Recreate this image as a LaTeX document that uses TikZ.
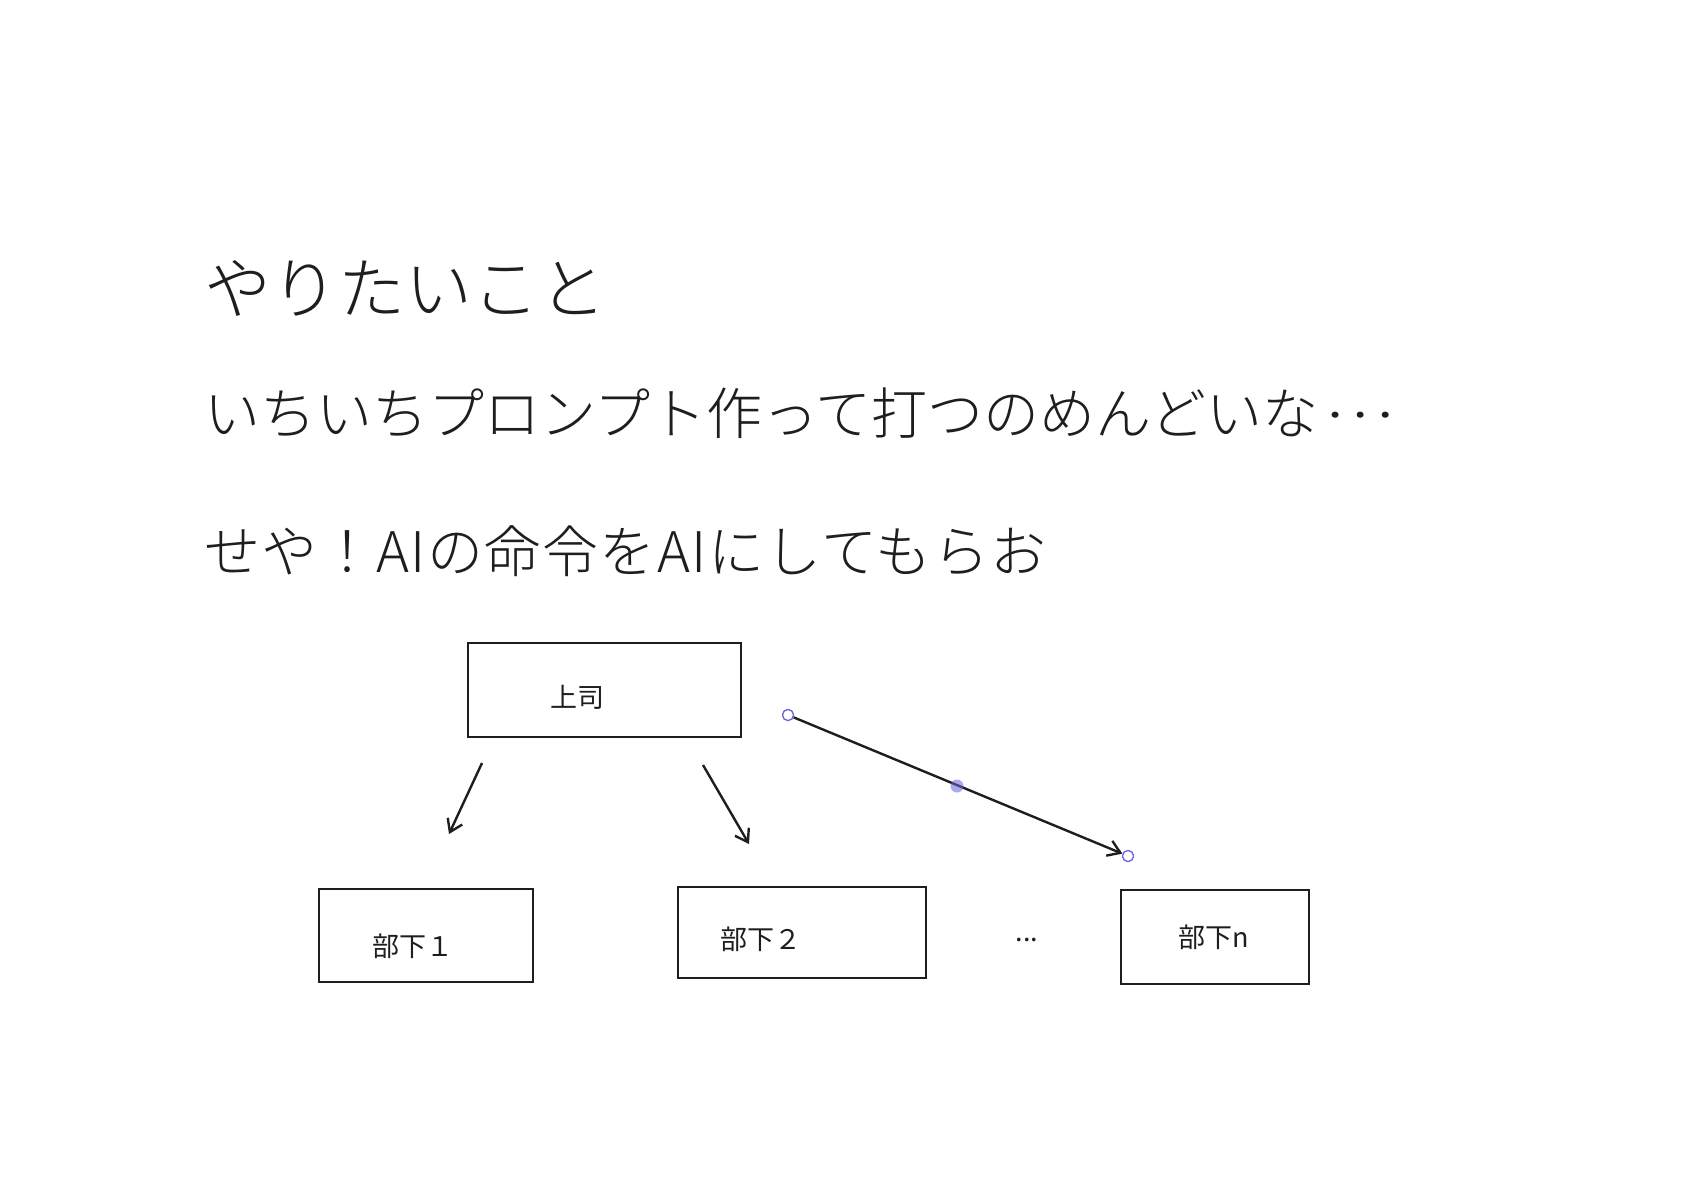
\documentclass[tikz,border=0pt]{standalone}
\usepackage{fontspec}
\usepackage{graphicx}
\setmainfont{Noto Sans CJK JP}
\newfontfamily\cjklight{Noto Sans CJK JP Light}
\usetikzlibrary{arrows.meta}
\definecolor{ink}{HTML}{1E1E1E}
\definecolor{sel}{HTML}{6965DB}
\newcommand{\fwell}{\hspace{0.12em}\raisebox{0.3em}{\scalebox{1.2}[1]{…}}}
\tikzset{
  heading/.style={anchor=west, inner sep=0pt, text=ink, font=\cjklight\fontsize{28pt}{32pt}\selectfont},
  bigheading/.style={heading, font=\cjklight\fontsize{33.5pt}{38pt}\selectfont},
  box/.style={draw=ink, line width=1.2pt, inner sep=0pt},
  lbl/.style={inner sep=0pt, text=ink, font=\fontsize{13.5pt}{16pt}\selectfont},
  conn/.style={draw=ink, line width=1.2pt, -{Straight Barb[length=6pt,width=8pt]}},
  handle/.style={draw=sel, fill=white, line width=0.6pt, circle, inner sep=0pt, minimum size=5.5pt},
  midhandle/.style={fill=sel, fill opacity=0.55, circle, inner sep=0pt, minimum size=6.5pt}
}
\begin{document}
\begin{tikzpicture}[x=0.5pt, y=-0.5pt]
\useasboundingbox[fill=white] (0,0) rectangle (1684,1190);

\node[bigheading] (t1) at (204,288) {やりたいこと};
\node[heading] (t2) at (204,413) {いちいちプロンプト作って打つのめんどいな\fwell};
\node[heading] (t3) at (204,551) {\addfontfeatures{LetterSpace=2.5}せや！AIの命令をAIにしてもらお};

\node[box, minimum width=136.5pt, minimum height=47pt] (boss) at (604.5,690) {};
\node[lbl] (bossl) at (577,697) {上司};

\node[box, minimum width=107pt, minimum height=46.5pt] (w1) at (426,935.5) {};
\node[lbl] (w1l) at (413,946) {部下１};

\node[box, minimum width=124pt, minimum height=45.5pt] (w2) at (802,932.5) {};
\node[lbl] (w2l) at (761,939) {部下２};

\node[lbl] (dots) at (1027,940) {...};

\node[box, minimum width=94pt, minimum height=47pt] (wn) at (1215,937) {};
\node[lbl] (wnl) at (1214,937) {部下n};

\coordinate (a1s) at (482,763);
\coordinate (a1e) at (449,834);
\coordinate (a2s) at (703,765);
\coordinate (a2e) at (749,844);
\draw[conn] (a1s) -- (a1e);
\draw[conn] (a2s) -- (a2e);

\node[handle] (h1) at (788,715) {};
\node[handle] (h2) at (1128,856) {};
\draw[conn] (h1) -- (h2);
\node[handle] at (788,715) {};
\node[handle] at (1128,856) {};
\node[midhandle] (hm) at (957,786) {};
\end{tikzpicture}
\end{document}
